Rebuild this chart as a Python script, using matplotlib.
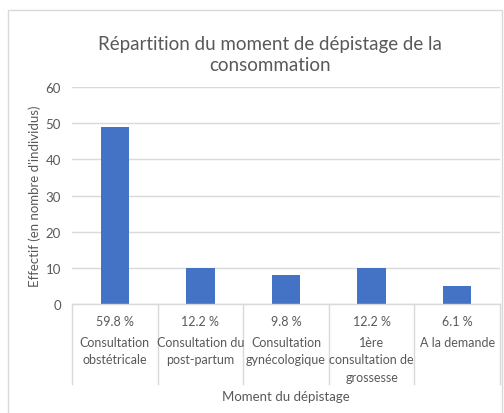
import matplotlib.pyplot as plt
import matplotlib.transforms as mtransforms
from matplotlib.patches import Rectangle

# --- Données -----------------------------------------------------------------
categories = [
    "Consultation\nobstétricale",
    "Consultation du\npost-partum",
    "Consultation\ngynécologique",
    "1ère\nconsultation de\ngrossesse",
    "A la demande",
]
effectifs = [49, 10, 8, 10, 5]
pourcentages = ["59.8 %", "12.2 %", "9.8 %", "12.2 %", "6.1 %"]
yticks = [0, 10, 20, 30, 40, 50, 60]

gris_texte = "#595959"
gris_ligne = "#d9d9d9"
bleu = "#4472c4"

plt.rcParams["font.family"] = ["Lato", "DejaVu Sans"]

W, H = 504, 414
fig = plt.figure(figsize=(W / 100, H / 100), dpi=100)

# cadre du graphique
fig.patches.append(Rectangle((8 / W, -0.01), (W - 10) / W, 1 - 11 / H + 0.01,
                             transform=fig.transFigure, fill=False,
                             edgecolor=gris_ligne, linewidth=1))

x0, x1, y_top, y_bot = 72, 500, 88, 305
ax = fig.add_axes([x0 / W, 1 - y_bot / H, (x1 - x0) / W, (y_bot - y_top) / H])

x = list(range(len(categories)))
ax.bar(x, effectifs, width=0.33, color=bleu, zorder=3)
ax.set_xlim(-0.5, len(categories) - 0.5)
ax.set_ylim(0, 60)
ax.set_yticks(yticks)
ax.tick_params(axis="y", length=0, labelsize=9.5, labelcolor=gris_texte, pad=8)
ax.set_xticks([])
ax.grid(axis="y", color=gris_ligne, linewidth=1, zorder=0)
for s in ax.spines.values():
    s.set_visible(False)

ax.set_ylabel("Effectif (en nombre d'individus)", fontsize=9.5, color=gris_texte, labelpad=3)

# tableau sous l'axe des x
trans = mtransforms.blended_transform_factory(ax.transData, ax.transAxes)
ax.plot([-0.5, len(categories) - 0.5], [0, 0], color=gris_ligne, lw=1,
        transform=trans, clip_on=False, zorder=4)
h_ax = y_bot - y_top
bas = -(385 - y_bot) / h_ax
for b in range(len(categories) + 1):
    ax.plot([b - 0.5, b - 0.5], [0, bas], color=gris_ligne, lw=1,
            transform=trans, clip_on=False)
for i, (p, c) in enumerate(zip(pourcentages, categories)):
    ax.text(i, -(322 - y_bot) / h_ax, p, ha="center", va="center",
            fontsize=9, color=gris_texte, transform=trans)
    ax.text(i, -(337 - y_bot) / h_ax, c, ha="center", va="top",
            fontsize=9, color=gris_texte, transform=trans, linespacing=1.55)
ax.text(0.5, -(397 - y_bot) / h_ax, "Moment du dépistage", ha="center",
        va="center", fontsize=9.5, color=gris_texte, transform=ax.transAxes)

fig.text(270 / W, 1 - 55 / H,
         "Répartition du moment de dépistage de la\nconsommation",
         ha="center", va="center", fontsize=13.5, color=gris_texte,
         linespacing=1.35)

fig.savefig("out.png", dpi=100)
